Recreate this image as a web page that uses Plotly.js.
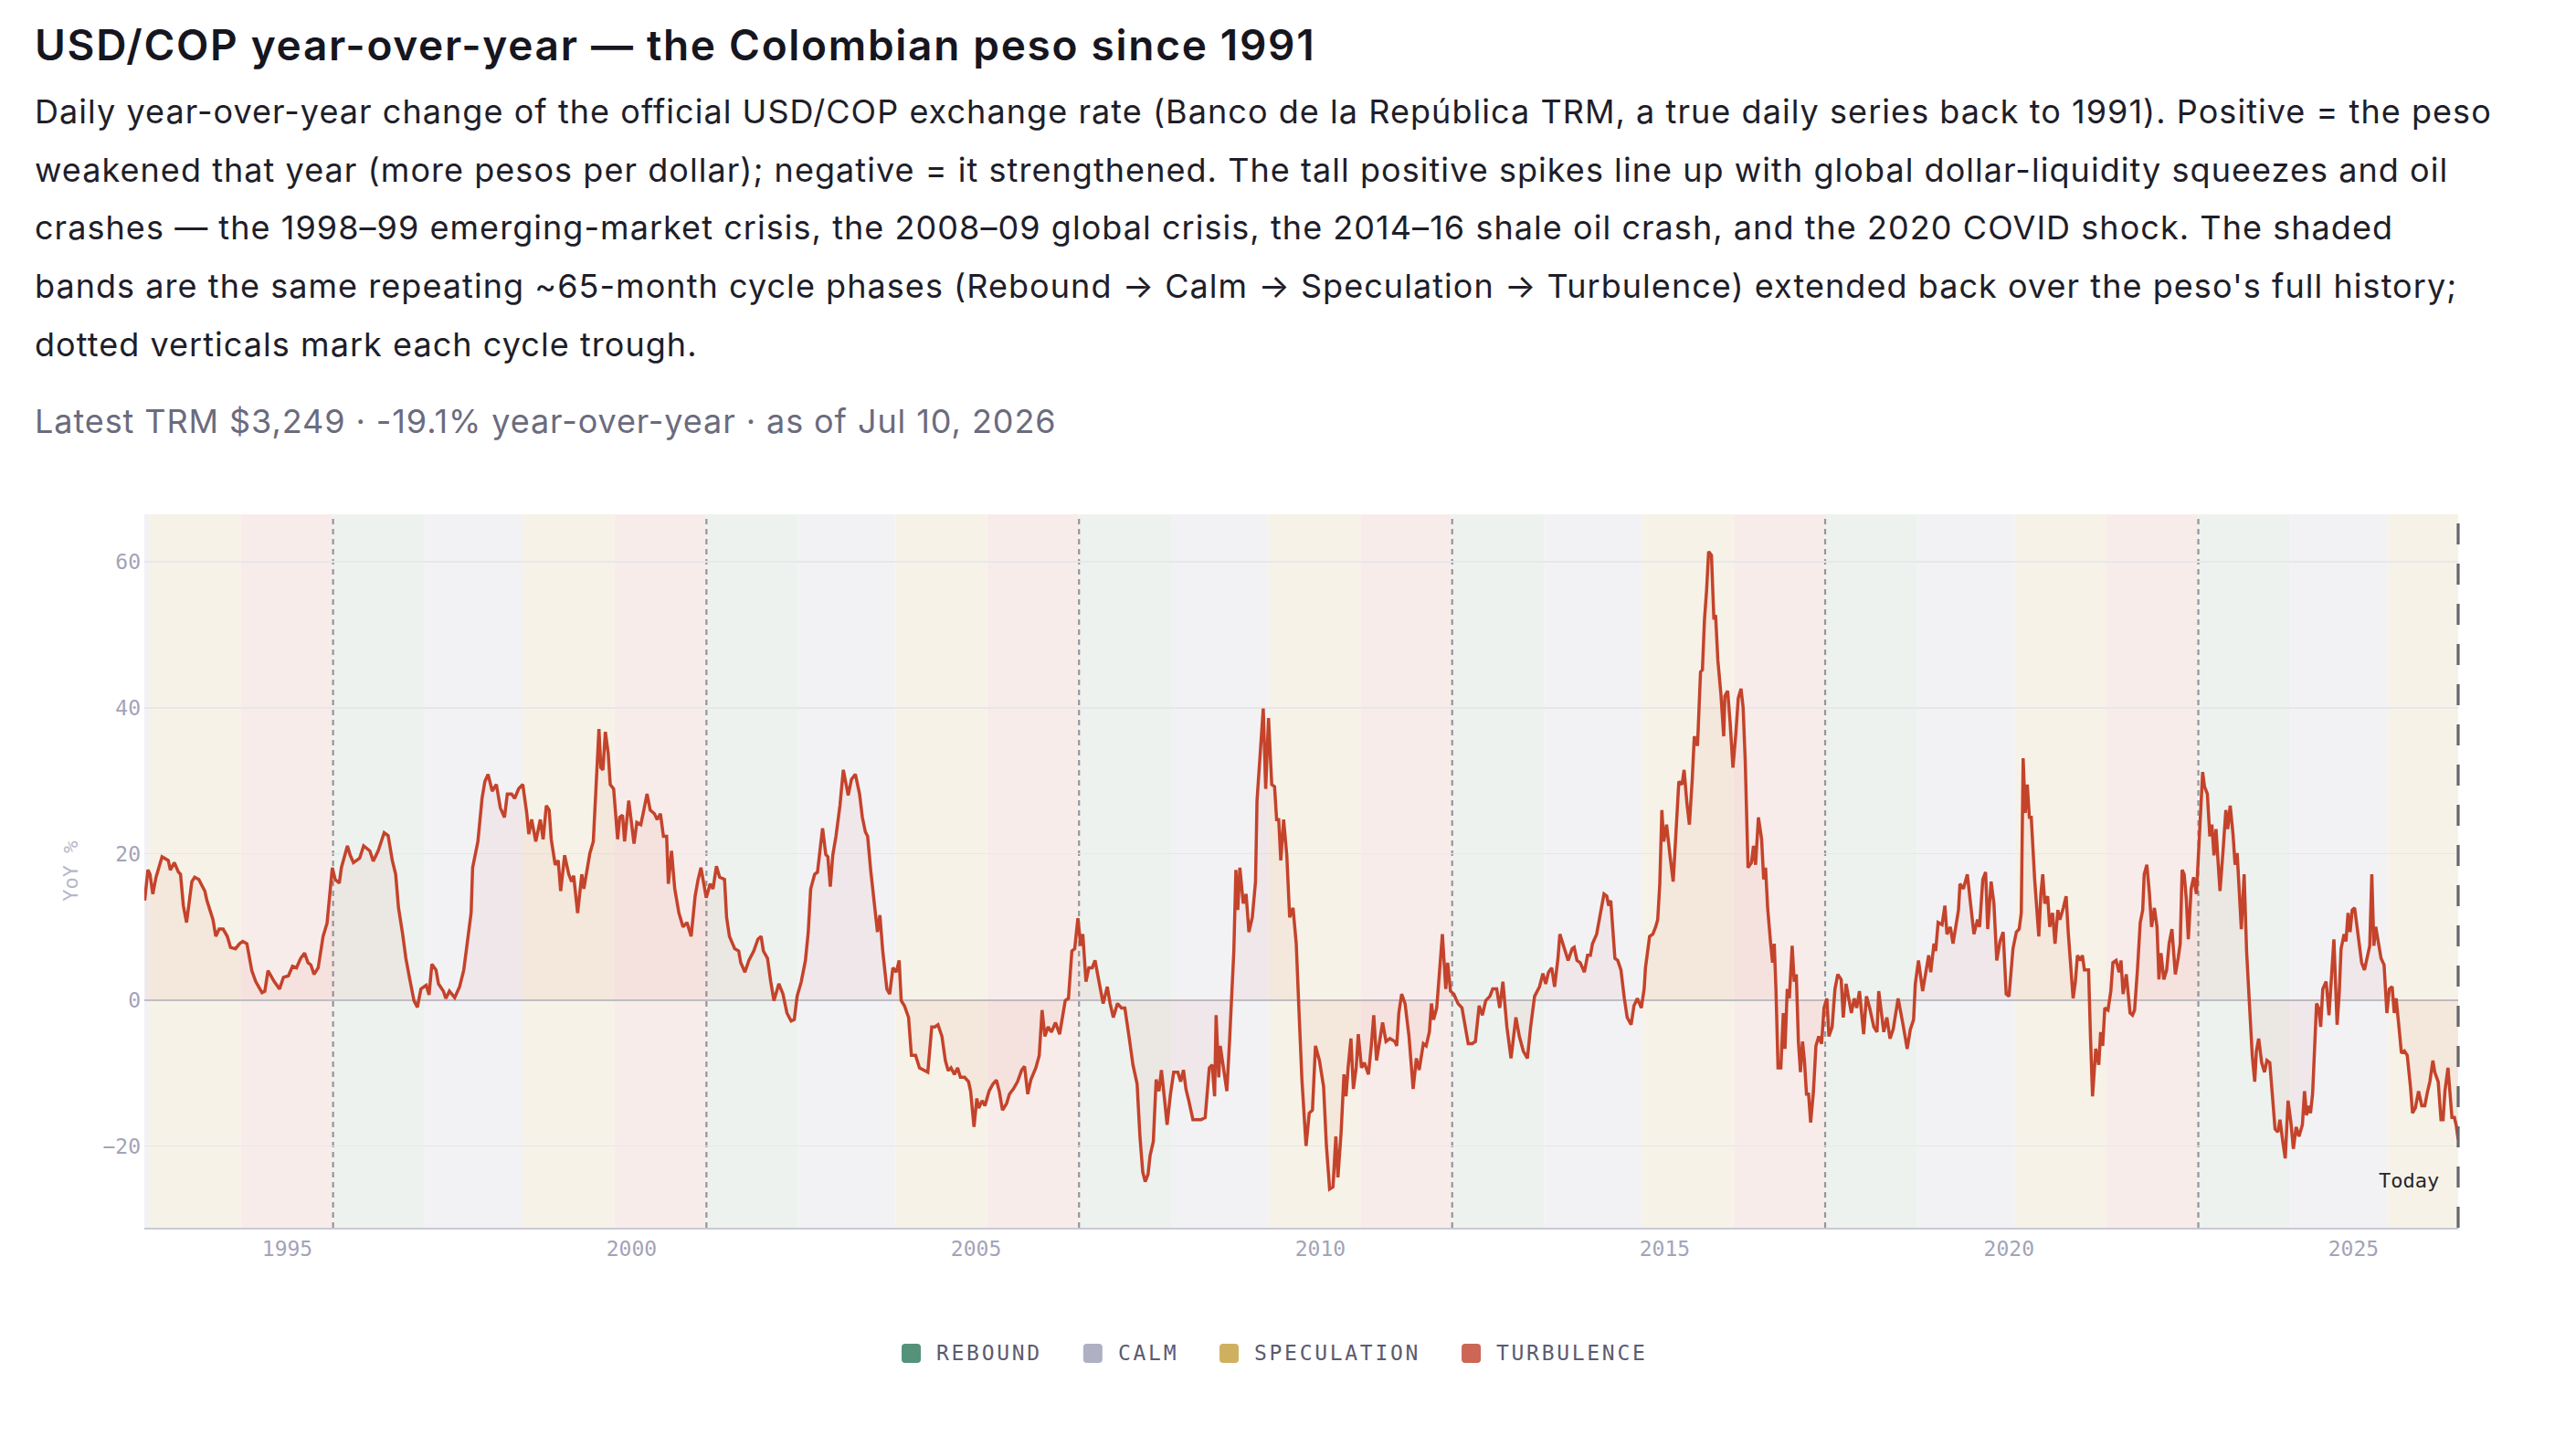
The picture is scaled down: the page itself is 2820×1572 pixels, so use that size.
<!DOCTYPE html>
<html>
<head>
<meta charset="utf-8">
<title>USD/COP year-over-year</title>
<script src="https://cdn.plot.ly/plotly-3.0.1.min.js"></script>
<style>
    html, body { margin: 0; padding: 0; background: #fff; }
    #placeholder { width: 2820px; height: 1572px; }
    /* the reference face runs a little wider than Inter, so open the tracking */
    .annotation-text[style*="font-size: 46px"] { letter-spacing: 1.7px; }
    .annotation-text[style*="font-size: 36px"] { letter-spacing: 1.05px; }
    .annotation-text[style*="fill: rgb(107, 107, 126)"] { letter-spacing: 0.92px; }
    /* legend labels are spaced out like small caps */
    .annotation-text[style*="font-size: 23px"] { letter-spacing: 2.7px; }
</style>
</head>
<body>
<div id="placeholder"></div>
<script>
'use strict';

// ---- data (decimal year, YoY %) ----
var yoy1990s = [
    [1992.929,13.6],[1992.976,17.8],[1993.006,17.2],[1993.047,14.5],[1993.095,16.8],[1993.183,19.6],
    [1993.272,19.1],[1993.302,17.8],[1993.361,18.8],[1993.420,17.5],[1993.450,17.2],[1993.491,12.9],
    [1993.538,10.6],[1993.615,16.2],[1993.657,16.8],[1993.716,16.5],[1993.805,14.9],[1993.834,13.6],
    [1993.923,11.0],[1993.964,8.7],[1994.012,9.7],[1994.071,9.7],[1994.130,8.7],[1994.178,7.2],
    [1994.249,7.0],[1994.308,7.7],[1994.355,8.0],[1994.414,7.7],[1994.485,4.0],[1994.544,2.5],
    [1994.633,1.0],[1994.675,1.2],[1994.722,4.0],[1994.811,2.5],[1994.888,1.5],[1994.947,3.1],
    [1995.018,3.3],[1995.077,4.6],[1995.136,4.4],[1995.195,5.7],[1995.254,6.4],[1995.302,5.1],
    [1995.343,4.8],[1995.391,3.5],[1995.450,4.4],[1995.521,8.7],[1995.580,10.5],[1995.609,13.6],
    [1995.657,18.1],[1995.698,16.5],[1995.757,16.0],[1995.787,18.1],[1995.876,21.1],[1995.917,19.8],
    [1995.964,18.8],[1996.053,19.4],[1996.112,21.1],[1996.201,20.4],[1996.249,19.0],[1996.320,20.4],
    [1996.408,22.9],[1996.467,22.5],[1996.527,19.1],[1996.574,17.2],[1996.615,12.6],[1996.675,9.0],
    [1996.722,5.7],[1996.781,2.8],[1996.840,-0.1],[1996.888,-1.0],[1996.941,1.5],[1997.018,2.0],
    [1997.059,0.7],[1997.101,4.9],[1997.160,4.1],[1997.195,2.2],[1997.266,1.2],[1997.302,0.2],
    [1997.355,1.2],[1997.432,0.3],[1997.503,1.8],[1997.562,4.1],[1997.621,8.0],[1997.669,11.9],
    [1997.692,18.1],[1997.769,21.7],[1997.828,27.6],[1997.870,29.9],[1997.917,30.9],[1997.976,28.6],
    [1998.036,29.5],[1998.095,26.3],[1998.154,25.0],[1998.195,28.2],[1998.260,28.2],[1998.302,27.6],
    [1998.361,28.9],[1998.420,29.5],[1998.479,25.6],[1998.509,22.7],[1998.550,24.7],[1998.609,21.7],
    [1998.675,24.7],[1998.716,22.0],[1998.763,26.6],[1998.805,26.0],[1998.834,22.0],[1998.893,18.5],
    [1998.935,19.1],[1998.970,14.9],[1999.030,19.8],[1999.089,17.2],[1999.130,16.2],[1999.160,17.0],
    [1999.219,11.9],[1999.278,17.2],[1999.308,15.2],[1999.367,18.5],[1999.396,20.1],[1999.444,21.7],
    [1999.485,30.2],[1999.527,37.1],[1999.556,31.8],[1999.586,31.5],[1999.621,36.7],[1999.663,33.8],
    [1999.692,29.5],[1999.740,28.9],[1999.799,22.0],[1999.828,25.0],[1999.870,25.3],[1999.899,21.7],
    [1999.959,27.3]
];

var yoy2000s = [
    [2000.000,24.0],[2000.036,21.4],[2000.077,24.3],[2000.136,24.0],[2000.178,26.0],[2000.225,28.2],
    [2000.272,26.0],[2000.331,25.5],[2000.373,24.7],[2000.420,25.5],[2000.462,22.4],[2000.509,22.4],
    [2000.533,15.9],[2000.580,20.4],[2000.627,15.2],[2000.686,11.9],[2000.746,10.0],[2000.805,10.6],
    [2000.864,8.7],[2000.923,14.2],[2000.964,16.4],[2001.006,18.1],[2001.083,14.0],[2001.142,15.9],
    [2001.183,15.2],[2001.231,18.3],[2001.278,16.8],[2001.349,16.5],[2001.379,11.3],[2001.420,8.7],
    [2001.497,7.0],[2001.556,6.7],[2001.586,5.1],[2001.645,3.8],[2001.704,5.4],[2001.775,6.7],
    [2001.834,8.3],[2001.882,8.7],[2001.913,6.7],[2001.973,5.7],[2002.020,2.5],[2002.068,-0.1],
    [2002.139,2.2],[2002.198,0.8],[2002.257,-1.8],[2002.316,-2.9],[2002.364,-2.7],[2002.405,0.5],
    [2002.464,2.5],[2002.524,5.4],[2002.565,9.3],[2002.601,15.2],[2002.660,17.2],[2002.701,17.5],
    [2002.743,21.1],[2002.773,23.5],[2002.820,19.9],[2002.850,19.6],[2002.885,15.5],[2002.921,19.8],
    [2002.968,22.4],[2003.027,26.6],[2003.075,31.5],[2003.146,28.0],[2003.193,30.2],[2003.252,30.9],
    [2003.312,28.2],[2003.353,25.0],[2003.395,23.0],[2003.430,22.4],[2003.472,17.8],[2003.531,13.2],
    [2003.572,9.3],[2003.608,11.6],[2003.649,6.7],[2003.709,1.5],[2003.750,0.8],[2003.797,4.4],
    [2003.845,3.8],[2003.886,5.4],[2003.916,-0.1],[2003.963,-0.8],[2004.023,-2.4],[2004.064,-7.6],
    [2004.123,-7.6],[2004.182,-9.3],[2004.242,-9.6],[2004.301,-9.9],[2004.360,-3.7],[2004.402,-3.7],
    [2004.449,-3.4],[2004.508,-5.0],[2004.556,-8.3],[2004.597,-9.7],[2004.639,-9.3],[2004.686,-10.2],
    [2004.733,-9.3],[2004.775,-10.6],[2004.834,-10.6],[2004.893,-11.2],[2004.923,-12.5],[2004.970,-17.4],
    [2005.012,-13.5],[2005.041,-14.8],[2005.089,-13.8],[2005.130,-14.5],[2005.190,-12.5],[2005.249,-11.5],
    [2005.296,-11.0],[2005.338,-12.5],[2005.385,-15.1],[2005.444,-14.2],[2005.486,-12.9],[2005.545,-12.2],
    [2005.604,-11.2],[2005.664,-9.6],[2005.705,-9.1],[2005.752,-12.9],[2005.800,-10.9],[2005.871,-9.3],
    [2005.918,-7.6],[2005.960,-1.4],[2006.001,-5.0],[2006.049,-3.7],[2006.096,-4.4],[2006.155,-3.1],
    [2006.214,-4.7],[2006.256,-2.4],[2006.297,-0.1],[2006.345,0.2],[2006.392,6.7],[2006.434,7.0],
    [2006.481,11.2],[2006.523,7.4],[2006.552,9.0],[2006.600,2.5],[2006.641,4.4],[2006.688,4.4],
    [2006.730,5.4],[2006.789,2.5],[2006.848,-0.5],[2006.908,1.8],[2006.949,-0.5],[2006.996,-2.4],
    [2007.056,-0.5],[2007.115,-1.1],[2007.162,-1.1],[2007.222,-5.0],[2007.281,-8.9],[2007.340,-11.5],
    [2007.382,-18.7],[2007.423,-23.6],[2007.459,-24.9],[2007.500,-23.9],[2007.530,-21.3],[2007.577,-19.4],
    [2007.618,-10.9],[2007.660,-12.5],[2007.695,-9.6],[2007.737,-13.5],[2007.778,-17.1],[2007.826,-12.9],
    [2007.873,-9.9],[2007.932,-9.9],[2007.974,-11.2],[2008.015,-9.6],[2008.051,-12.2],[2008.092,-13.8],
    [2008.152,-16.4],[2008.211,-16.4],[2008.270,-16.4],[2008.329,-16.1],[2008.389,-9.3],[2008.430,-8.9],
    [2008.466,-13.2],[2008.489,-2.1],[2008.525,-10.6],[2008.549,-6.3],[2008.596,-9.6],[2008.643,-12.5],
    [2008.685,-5.3],[2008.714,0.2],[2008.744,6.7],[2008.774,17.8],[2008.803,12.3],[2008.833,18.1],
    [2008.880,13.2],[2008.922,14.5],[2008.963,9.3],[2009.011,11.3],[2009.058,16.2],[2009.082,27.3],
    [2009.117,32.8],[2009.171,39.9],[2009.206,28.9],[2009.248,38.6],[2009.295,29.5],[2009.336,29.2],
    [2009.366,24.7],[2009.396,24.7],[2009.425,19.1],[2009.467,24.7],[2009.514,19.8],[2009.556,11.3],
    [2009.603,12.6],[2009.650,7.7],[2009.692,-1.8],[2009.733,-10.9],[2009.793,-20.0],[2009.840,-15.5],
    [2009.887,-15.1],[2009.929,-6.3],[2009.988,-8.3]
];

var yoy2010s = [
    [2010.047,-11.9],[2010.089,-20.0],[2010.136,-25.9],[2010.184,-25.6],[2010.225,-18.7],[2010.255,-24.3],
    [2010.302,-18.1],[2010.344,-10.2],[2010.373,-13.2],[2010.403,-9.3],[2010.444,-5.3],[2010.480,-12.2],
    [2010.521,-9.3],[2010.551,-4.7],[2010.598,-9.3],[2010.640,-8.6],[2010.699,-10.2],[2010.741,-6.3],
    [2010.776,-2.1],[2010.818,-8.3],[2010.859,-5.7],[2010.906,-3.1],[2010.954,-5.7],[2011.013,-5.3],
    [2011.084,-5.7],[2011.112,-6.3],[2011.142,-1.8],[2011.183,0.8],[2011.231,-0.5],[2011.290,-5.0],
    [2011.349,-12.2],[2011.396,-8.0],[2011.438,-9.6],[2011.497,-6.0],[2011.538,-6.3],[2011.586,-4.4],
    [2011.615,-0.5],[2011.645,-2.7],[2011.692,-1.1],[2011.734,4.1],[2011.775,9.0],[2011.822,1.5],
    [2011.852,5.1],[2011.893,1.2],[2011.941,0.8],[2012.000,-0.5],[2012.059,-1.1],[2012.148,-6.0],
    [2012.207,-6.0],[2012.254,-5.7],[2012.308,-0.8],[2012.355,-2.1],[2012.402,-0.1],[2012.462,0.5],
    [2012.503,1.5],[2012.562,1.5],[2012.604,-1.1],[2012.651,2.5],[2012.710,-3.7],[2012.769,-8.0],
    [2012.840,-2.4],[2012.888,-5.0],[2012.947,-7.0],[2013.006,-8.0],[2013.053,-3.7],[2013.112,0.5],
    [2013.183,1.8],[2013.231,3.6],[2013.272,2.2],[2013.314,3.8],[2013.361,4.4],[2013.402,1.8],
    [2013.450,5.7],[2013.479,9.0],[2013.527,7.4],[2013.598,5.4],[2013.657,7.0],[2013.686,7.2],
    [2013.728,5.4],[2013.775,5.1],[2013.834,3.8],[2013.882,6.1],[2013.923,6.1],[2013.953,7.7],
    [2014.012,9.0],[2014.071,12.3],[2014.118,14.5],[2014.160,14.2],[2014.189,12.9],[2014.219,13.6],
    [2014.278,5.7],[2014.320,5.4],[2014.367,4.1],[2014.414,0.2],[2014.456,-2.4],[2014.515,-3.4],
    [2014.556,-0.8],[2014.604,0.2],[2014.663,-1.1],[2014.704,1.5],[2014.722,4.4],[2014.781,8.7],
    [2014.828,9.0],[2014.870,10.0],[2014.899,11.0],[2014.929,15.9],[2014.959,26.0],[2014.988,21.7],
    [2015.030,24.0],[2015.077,19.8],[2015.124,16.2],[2015.166,23.0],[2015.207,29.9],[2015.254,29.5],
    [2015.284,31.5],[2015.325,26.9],[2015.361,24.0],[2015.402,30.2],[2015.432,36.1],[2015.479,34.8],
    [2015.521,44.9],[2015.550,45.2],[2015.580,52.1],[2015.609,56.0],[2015.639,61.4],[2015.680,60.9],
    [2015.716,52.1],[2015.740,52.7],[2015.775,46.5],[2015.817,41.9],[2015.858,36.1],[2015.876,41.6],
    [2015.917,42.3],[2015.953,38.0],[2015.994,31.8],[2016.036,36.7],[2016.071,41.3],[2016.112,42.6],
    [2016.142,40.0],[2016.172,32.8],[2016.213,18.1],[2016.260,18.8],[2016.290,21.1],[2016.320,18.5],
    [2016.361,25.0],[2016.408,22.0],[2016.438,16.5],[2016.467,18.1],[2016.497,12.6],[2016.538,8.0],
    [2016.568,5.1],[2016.592,7.7],[2016.615,1.5],[2016.645,-9.3],[2016.686,-9.3],[2016.722,-1.8],
    [2016.746,-6.7],[2016.781,1.5],[2016.811,0.2],[2016.852,7.4],[2016.882,2.5],[2016.911,3.5],
    [2016.941,-5.7],[2016.970,-9.9],[2017.000,-5.7],[2017.030,-8.3],[2017.059,-12.9],[2017.089,-12.9],
    [2017.118,-16.8],[2017.160,-12.5],[2017.195,-6.3],[2017.237,-5.0],[2017.278,-6.0],[2017.314,-1.1],
    [2017.355,0.2],[2017.385,-5.0],[2017.432,-3.7],[2017.473,1.5],[2017.515,3.5],[2017.562,2.8],
    [2017.592,-2.4],[2017.633,2.2],[2017.669,0.2],[2017.710,-1.8],[2017.751,0.2],[2017.787,-1.1],
    [2017.828,1.2],[2017.888,-4.7],[2017.929,0.5],[2017.976,-1.1],[2018.036,-3.7],[2018.083,-4.4],
    [2018.107,1.2],[2018.154,-2.4],[2018.183,-4.4],[2018.225,-2.4],[2018.272,-5.3],[2018.320,-4.0],
    [2018.391,0.2],[2018.462,-3.4],[2018.521,-6.7],[2018.568,-4.0],[2018.615,-2.7],[2018.639,2.2],
    [2018.686,5.4],[2018.746,1.2],[2018.793,4.1],[2018.834,6.1],[2018.864,3.8],[2018.911,7.7],
    [2018.935,6.7],[2018.970,10.6],[2019.030,10.3],[2019.071,12.9],[2019.101,9.0],[2019.148,10.0],
    [2019.189,7.7],[2019.231,10.0],[2019.266,12.3],[2019.290,15.9],[2019.337,15.2],[2019.396,17.2],
    [2019.456,11.9],[2019.491,9.0],[2019.544,11.0],[2019.574,10.0],[2019.621,16.5],[2019.663,17.5],
    [2019.692,9.7],[2019.740,16.2],[2019.781,13.2],[2019.822,5.4],[2019.870,8.0],[2019.917,9.3],
    [2019.959,0.8]
];

var yoy2020s = [
    [2020.000,0.5],[2020.059,7.0],[2020.107,9.3],[2020.148,9.7],[2020.178,11.9],[2020.207,33.1],
    [2020.237,25.6],[2020.266,29.5],[2020.296,25.0],[2020.325,25.0],[2020.373,16.5],[2020.432,8.7],
    [2020.462,14.5],[2020.491,17.2],[2020.521,13.2],[2020.562,14.2],[2020.592,10.0],[2020.633,11.9],
    [2020.669,7.7],[2020.710,12.3],[2020.740,11.0],[2020.787,12.6],[2020.828,14.2],[2020.858,9.3],
    [2020.899,4.1],[2020.929,0.2],[2020.964,2.5],[2020.994,6.1],[2021.036,5.4],[2021.065,6.1],
    [2021.095,4.1],[2021.154,4.1],[2021.183,-5.0],[2021.213,-13.2],[2021.260,-6.7],[2021.302,-8.9],
    [2021.331,-4.4],[2021.361,-6.3],[2021.391,-1.1],[2021.438,-1.4],[2021.479,1.2],[2021.509,5.1],
    [2021.556,5.4],[2021.598,3.8],[2021.627,5.4],[2021.657,0.8],[2021.704,3.5],[2021.757,-1.8],
    [2021.793,-2.1],[2021.822,-1.4],[2021.864,4.1],[2021.905,10.6],[2021.941,12.3],[2021.964,17.2],
    [2022.000,18.5],[2022.041,14.5],[2022.071,10.0],[2022.112,12.6],[2022.148,10.0],[2022.178,2.8],
    [2022.207,6.4],[2022.249,2.8],[2022.290,4.1],[2022.325,7.7],[2022.367,9.7],[2022.414,3.5],
    [2022.456,5.7],[2022.485,7.7],[2022.515,17.8],[2022.544,17.2],[2022.574,13.9],[2022.604,8.3],
    [2022.645,15.2],[2022.680,16.8],[2022.722,14.5],[2022.763,22.4],[2022.811,31.2],[2022.840,29.2],
    [2022.882,28.2],[2022.917,22.4],[2022.947,24.0],[2022.976,19.8],[2023.006,23.4],[2023.036,18.8],
    [2023.065,14.9],[2023.107,20.4],[2023.148,26.0],[2023.178,23.4],[2023.213,26.6],[2023.254,22.7],
    [2023.284,18.5],[2023.314,20.1],[2023.343,15.2],[2023.373,9.7],[2023.414,17.2],[2023.450,6.7],
    [2023.491,-0.5],[2023.533,-7.6],[2023.568,-11.2],[2023.592,-7.0],[2023.627,-5.3],[2023.669,-8.6],
    [2023.710,-9.9],[2023.746,-8.3],[2023.787,-8.6],[2023.828,-14.2],[2023.864,-17.7],[2023.905,-18.1],
    [2023.935,-16.4],[2023.976,-19.4],[2024.012,-21.7],[2024.053,-13.8],[2024.095,-16.8],[2024.130,-20.4],
    [2024.172,-17.4],[2024.213,-18.7],[2024.260,-17.1],[2024.290,-12.5],[2024.320,-15.8],[2024.349,-14.5],
    [2024.379,-15.5],[2024.408,-12.9],[2024.438,-6.3],[2024.467,-0.5],[2024.497,-1.1],[2024.527,-3.7],
    [2024.556,1.5],[2024.604,2.5],[2024.645,-2.1],[2024.675,2.2],[2024.716,8.3],[2024.763,-3.4],
    [2024.793,0.8],[2024.822,7.0],[2024.864,9.0],[2024.893,8.0],[2024.923,11.9],[2024.953,9.3],
    [2024.982,12.3],[2025.018,12.6],[2025.047,10.3],[2025.077,7.4],[2025.118,5.1],[2025.160,4.1],
    [2025.207,6.1],[2025.237,7.4],[2025.266,17.2],[2025.296,7.4],[2025.325,10.0],[2025.367,8.0],
    [2025.402,5.7],[2025.444,4.8],[2025.485,-1.8],[2025.521,1.5],[2025.562,1.8],[2025.592,-1.8],
    [2025.621,0.2],[2025.663,-3.7],[2025.698,-7.3],[2025.740,-7.0],[2025.781,-7.6],[2025.828,-11.9],
    [2025.858,-15.5],[2025.899,-14.8],[2025.947,-12.5],[2025.994,-14.5],[2026.036,-14.5],[2026.077,-12.5],
    [2026.112,-11.2],[2026.154,-8.3],[2026.183,-9.9],[2026.231,-11.2],[2026.272,-16.4],[2026.302,-16.4],
    [2026.331,-12.5],[2026.373,-9.3],[2026.408,-13.5],[2026.432,-16.1],[2026.467,-16.1],[2026.491,-17.1],
    [2026.521,-19.1]
];

// cycle troughs (dotted verticals) and the four phases of each ~65-month cycle
var troughDates = [ '1995-09-01', '2001-02-01', '2006-07-01', '2011-12-01', '2017-05-01', '2022-10-01' ];
var phaseNames = [ 'Rebound', 'Calm', 'Speculation', 'Turbulence' ];
var phaseMonths = [ 16, 17, 16, 16 ];
var phaseColors = [ '#55927a', '#b0b0c4', '#cfb060', '#cc6655' ];
var phaseTints = [ '#edf2ef', '#f2f2f5', '#f7f2e7', '#f8ecea' ];

var startDate = '1992-12-04';
var todayDate = '2026-07-10';

var titleText = 'USD/COP year-over-year — the Colombian peso since 1991';
var introLines = [
    'Daily year-over-year change of the official USD/COP exchange rate (Banco de la República TRM, a true daily series back to 1991). Positive = the peso',
    'weakened that year (more pesos per dollar); negative = it strengthened. The tall positive spikes line up with global dollar-liquidity squeezes and oil',
    'crashes — the 1998–99 emerging-market crisis, the 2008–09 global crisis, the 2014–16 shale oil crash, and the 2020 COVID shock. The shaded',
    'bands are the same repeating ~65-month cycle phases (Rebound → Calm → Speculation → Turbulence) extended back over the peso\'s full history;',
    'dotted verticals mark each cycle trough.'
];
var statsText = 'Latest TRM $3,249 · -19.1% year-over-year · as of Jul 10, 2026';


( function() {

    var W = 2820, H = 1572;
    var box = { l: 158, r: 2691, t: 563, b: 1344.5 };
    var MONO = '"DejaVu Sans Mono", monospace';
    var SANS = 'Inter, "Noto Sans", sans-serif';

    // page pixels -> paper fractions
    var px = ( x ) => ( x - box.l ) / ( box.r - box.l );
    var py = ( y ) => ( box.b - y ) / ( box.b - box.t );

    var yearToDate = ( y ) => {
        var yr = Math.floor( y );
        var a = Date.UTC( yr, 0, 1 ), b = Date.UTC( yr + 1, 0, 1 );
        return new Date( a + ( y - yr ) * ( b - a ) ).toISOString().slice( 0, 10 );
    };

    var addMonths = ( iso, n ) => {
        var d = new Date( iso + 'T00:00:00Z' );
        d.setUTCMonth( d.getUTCMonth() + n );
        return d.toISOString().slice( 0, 10 );
    };

    var series = [].concat( yoy1990s, yoy2000s, yoy2010s, yoy2020s );
    var xs = series.map( ( p ) => yearToDate( p[0] ) );
    var ys = series.map( ( p ) => p[1] );

    var shapes = [];

    // phase bands
    var cycleLen = phaseMonths.reduce( ( s, m ) => s + m, 0 );
    var cycleStarts = [ addMonths( troughDates[0], -cycleLen ) ].concat( troughDates );
    cycleStarts.forEach( function( start ) {
        var cur = start;
        phaseMonths.forEach( function( m, i ) {
            var end = addMonths( cur, m );
            var a = cur < startDate ? startDate : cur;
            var b = end > todayDate ? todayDate : end;
            if ( a < b ) {
                shapes.push( {
                    type: 'rect', xref: 'x', yref: 'paper', x0: a, x1: b, y0: 0, y1: 1,
                    fillcolor: phaseTints[i], line: { width: 0 }, layer: 'below'
                } );
            }
            cur = end;
        } );
    } );

    // cycle troughs
    troughDates.forEach( function( d ) {
        shapes.push( {
            type: 'line', xref: 'x', yref: 'paper', x0: d, x1: d, y0: 0, y1: 1,
            line: { color: '#96969b', width: 2.2, dash: '6px,5px' }, layer: 'between'
        } );
    } );

    // today marker sits on the right edge of the range (x = 1 in paper units),
    // drawn in paper space so the plot clip does not shave half of it off
    shapes.push( {
        type: 'line', xref: 'paper', yref: 'paper', x0: 1, x1: 1, y0: 0, y1: 1,
        line: { color: '#66666c', width: 3.2, dash: '23px,21px' }, layer: 'above'
    } );

    var annotations = [];
    var note = ( text, x, y, font, xanchor ) => {
        annotations.push( {
            text: text, xref: 'paper', yref: 'paper', x: px( x ), y: py( y ),
            xanchor: xanchor || 'left', yanchor: 'middle', showarrow: false, font: font
        } );
    };

    note( titleText, 36, 49, { family: SANS, size: 46, weight: 600, color: '#16161f' } );
    introLines.forEach( function( line, i ) {
        note( line, 36, 122 + i * 63.6, { family: SANS, size: 36, color: '#1e1e2a' } );
    } );
    note( statsText, 36, 461, { family: SANS, size: 36, color: '#6b6b7e' } );
    note( 'Today', 2672, 1293, { family: MONO, size: 22, color: '#26262c' }, 'right' );

    // legend: rounded swatches + spaced mono caps
    var ctx = document.createElement( 'canvas' ).getContext( '2d' );
    ctx.font = '23px "DejaVu Sans Mono"';
    var half = 10.5, rad = 4, k = half - rad;
    var swatch = [
        'M', -k, -half, 'L', k, -half, 'Q', half, -half, half, -k,
        'L', half, k, 'Q', half, half, k, half,
        'L', -k, half, 'Q', -half, half, -half, k,
        'L', -half, -k, 'Q', -half, -half, -k, -half, 'Z'
    ].join( ' ' );
    var lx = 987, ly = 1482;
    phaseNames.forEach( function( name, i ) {
        var label = name.toUpperCase();
        shapes.push( {
            type: 'path', xref: 'paper', yref: 'paper', xsizemode: 'pixel', ysizemode: 'pixel',
            xanchor: px( lx + half ), yanchor: py( ly ), path: swatch,
            fillcolor: phaseColors[i], line: { width: 0 }, layer: 'above'
        } );
        note( label, lx + 36, ly, { family: MONO, size: 23, color: '#5b5b70' } );
        var w = ctx.measureText( label ).width + label.length * 2.7;
        lx = lx + 36 + w + 47;
    } );

    var data = [ {
        type: 'scatter', mode: 'lines', x: xs, y: ys,
        line: { color: '#c4432b', width: 3.5 },
        fill: 'tozeroy', fillcolor: 'rgba(196,67,43,0.06)',
        hoverinfo: 'skip', showlegend: false
    } ];

    var layout = {
        width: W, height: H,
        margin: { l: box.l, r: W - box.r, t: box.t, b: H - box.b, pad: 0 },
        paper_bgcolor: '#ffffff', plot_bgcolor: '#ffffff',
        showlegend: false,
        xaxis: {
            type: 'date', range: [ startDate, todayDate ],
            tick0: '1995-01-01', dtick: 'M60', tickformat: '%Y',
            showgrid: false, zeroline: false,
            showline: true, linecolor: '#c9c9d6', linewidth: 2,
            ticks: '', ticklabelstandoff: 1,
            tickfont: { family: MONO, size: 23, color: '#a3a3b8' }
        },
        yaxis: {
            range: [ -31.2, 66.5 ], tick0: 0, dtick: 20,
            showgrid: true, gridcolor: '#e7e7eb', gridwidth: 1.5,
            zeroline: true, zerolinecolor: '#bfbfc7', zerolinewidth: 2,
            showline: false, ticks: '', ticklabelstandoff: 3,
            tickfont: { family: MONO, size: 23, color: '#a3a3b8' },
            title: { text: 'YoY %', standoff: 20, font: { family: MONO, size: 22, color: '#b6b6c9' } }
        },
        shapes: shapes,
        annotations: annotations
    };

    Plotly.newPlot( 'placeholder', data, layout, { staticPlot: true, displayModeBar: false } );
} )();
</script>
</body>
</html>
